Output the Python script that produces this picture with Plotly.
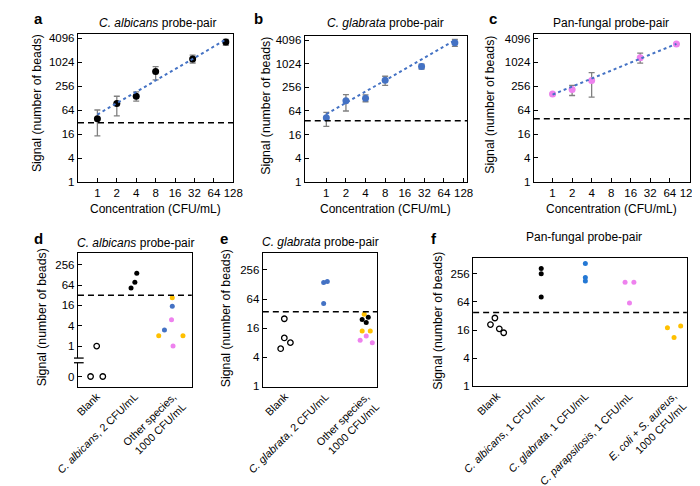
import numpy as np
import plotly.graph_objects as go

W, H = 700, 486
FONT = "Liberation Sans, Arial, sans-serif"

# ---- panels a-c : signal vs concentration ----
conc_a = [1, 2, 4, 8, 30, 98]
sig_a = [39, 95, 144, 600, 1237, 3330]
hi_a = [65, 144, 185, 800, 1553, 3880]
lo_a = [14.6, 46, 108, 373, 985, 2750]
fit_a_x = [1, 100]
fit_a_y = [50, 3900]
thr_a = 31

conc_b = [1, 2, 4, 8, 29, 94]
sig_b = [43, 116, 135, 391, 878, 3510]
hi_b = [59, 168, 164, 492, 1003, 4260]
lo_b = [26, 64, 110, 288, 753, 2840]
fit_b_x = [1, 94]
fit_b_y = [53, 4096]
thr_b = 36

conc_c = [1, 2, 4, 22.4, 81]
sig_c = [164, 211, 359, 1335, 2970]
hi_c = [170, 270, 568, 1745, 3050]
lo_c = [158, 150, 136, 985, 2900]
fit_c_x = [1, 81]
fit_c_y = [158, 3000]
thr_c = 39

conc_ticks = [1, 2, 4, 8, 16, 32, 64, 128]
sig_ticks = [1, 4, 16, 64, 256, 1024, 4096]

# ---- panels d-f : specificity (category index + jitter) ----
cats_d = ["Blank", "<i>C. albicans</i>, 2 CFU/mL", "Other species,<br>1000 CFU/mL"]
d_blank_x = [0, -0.16, 0.16]
d_blank_y = [1, 0, 0]
d_alb_x = [0.9, 1.0, 1.05]
d_alb_y = [52, 78, 143]
d_orange_x = [1.98, 1.625, 2.26]
d_orange_y = [27, 2, 2]
d_blue_x = [1.98, 1.775]
d_blue_y = [15, 3]
d_pink_x = [1.96, 2.0]
d_pink_y = [6, 1]
thr_d = 32
zero_pos = 0.125  # where "0" sits below the axis break
break_vals = [0.44, 0.32]

cats_e = ["Blank", "<i>C. glabrata</i>, 2 CFU/mL", "Other species,<br>1000 CFU/mL"]
e_blank_x = [-0.02, -0.02, 0.13, -0.11]
e_blank_y = [25, 10, 8, 6]
e_glab_x = [0.95, 1.04, 0.95]
e_glab_y = [141, 148, 52]
e_orange_x = [1.95, 1.9, 2.1]
e_orange_y = [31, 14, 14]
e_black_x = [2.05, 1.9, 2.0]
e_black_y = [27, 24, 21]
e_pink_x = [2.0, 1.85, 2.15]
e_pink_y = [11, 9, 8]
thr_e = 35

cats_f = ["Blank", "<i>C. albicans</i>, 1 CFU/mL", "<i>C. glabrata</i>, 1 CFU/mL",
          "<i>C. parapsilosis</i>, 1 CFU/mL", "<i>E. coli</i> + <i>S. aureus</i>,<br>1000 CFU/mL"]
f_blank_x = [-0.15, -0.05, 0.05, 0.15]
f_blank_y = [21, 29, 17, 14]
f_alb_x = [1.0, 1.0, 1.0]
f_alb_y = [337, 260, 82]
f_glab_x = [2.0, 2.0, 2.0]
f_glab_y = [430, 214, 180]
f_para_x = [2.9, 3.1, 3.0]
f_para_y = [171, 171, 61]
f_ecoli_x = [3.86, 4.16, 4.01]
f_ecoli_y = [18, 19.5, 11]
thr_f = 38

BLACK = "#000000"
BLUE = "#4472C4"
BLUE2 = "#2478d4"
PINK = "#EE82EE"
ORANGE = "#FFC000"
GREY = "#808080"


def px(x):
    return x / W


def py(y):
    return 1 - y / H


fig = go.Figure()

axis_style = dict(showline=True, linecolor="black", linewidth=1.3, mirror=True,
                  showgrid=False, zeroline=False, tickcolor="black",
                  tickfont=dict(size=11.5, color="black", family=FONT))

# pixel boxes of each panel: (x0, x1), (y0 top, y1 bottom)
boxes = {
    1: ((49.3, 212.3), (24, 175)),
    2: ((287.3, 457.7), (26.7, 174.7)),
    3: ((527.7, 691.3), (24, 174.7)),
    4: ((49.3, 168.7), (246.7, 383.3)),
    5: ((243.3, 363.3), (246.7, 383.3)),
    6: ((464, 688.3), (251.7, 382.7)),
}

layout_axes = {}
for i, ((x0, x1), (y0, y1)) in boxes.items():
    s = "" if i == 1 else str(i)
    layout_axes["xaxis" + s] = dict(domain=[px(x0), px(x1)], anchor="y" + s, **axis_style)
    layout_axes["yaxis" + s] = dict(domain=[py(y1), py(y0)], anchor="x" + s,
                                    type="log", ticks="inside", ticklen=4, **axis_style)
fig.update_layout(**layout_axes)

# x ranges (log2 units converted to log10)
l2 = np.log10(2)
for s, (lo, hi) in zip(["", "2", "3"], [(-1.0, 7.0), (-1.1, 7.18), (-0.96, 7.02)]):
    fig.layout["xaxis" + s].update(type="log", range=[lo * l2, hi * l2], tickvals=conc_ticks,
                                   ticktext=[str(t) for t in conc_ticks], ticks="inside", ticklen=4)
for s, top in zip(["", "2", "3"], [12.4, 12.33, 12.41]):
    fig.layout["yaxis" + s].update(range=[0, top * l2], tickvals=sig_ticks,
                                   ticktext=[str(t) for t in sig_ticks])

# bottom row category axes
for s, cats, rng in [("4", cats_d, [-0.49, 2.49]), ("5", cats_e, [-0.55, 2.27]),
                     ("6", cats_f, [-0.543, 4.3])]:
    fig.layout["xaxis" + s].update(range=rng, tickvals=list(range(len(cats))), ticktext=cats,
                                   tickangle=-45, ticks="", ticklabelstandoff=-2,
                                   tickfont=dict(size=10.8, color="black", family=FONT))
fig.layout.yaxis4.update(range=[-4.03 * l2, 9.19 * l2], tickvals=[zero_pos, 1, 4, 16, 64, 256],
                         ticktext=["0", "1", "4", "16", "64", "256"])
fig.layout.yaxis5.update(range=[-0.05 * l2, 9.19 * l2], tickvals=[1, 4, 16, 64, 256],
                         ticktext=["1", "4", "16", "64", "256"])
fig.layout.yaxis6.update(range=[-0.02 * l2, 9.17 * l2], tickvals=[1, 4, 16, 64, 256],
                         ticktext=["1", "4", "16", "64", "256"])

# ---- top row traces ----
for s, conc, sig, hi, lo, fx, fy, col in [
    ("", conc_a, sig_a, hi_a, lo_a, fit_a_x, fit_a_y, BLACK),
    ("2", conc_b, sig_b, hi_b, lo_b, fit_b_x, fit_b_y, BLUE),
    ("3", conc_c, sig_c, hi_c, lo_c, fit_c_x, fit_c_y, PINK),
]:
    sig_arr = np.array(sig, dtype=float)
    fig.add_trace(go.Scatter(
        x=conc, y=sig, mode="markers", xaxis="x" + s, yaxis="y" + s,
        marker=dict(color=col, size=7),
        error_y=dict(type="data", symmetric=False, array=np.array(hi) - sig_arr,
                     arrayminus=sig_arr - np.array(lo), color=GREY, thickness=1.3, width=3)))
    fig.add_trace(go.Scatter(x=fx, y=fy, mode="lines", xaxis="x" + s, yaxis="y" + s,
                             line=dict(color=BLUE, width=2, dash="dot")))


def dots(xs, ys, s, col, open_=False):
    ys = [zero_pos if v == 0 else v for v in ys]
    if open_:
        m = dict(symbol="circle-open", size=5.5, color=col, line=dict(width=1.3, color=col))
    else:
        m = dict(symbol="circle", size=5, color=col)
    fig.add_trace(go.Scatter(x=xs, y=ys, mode="markers", xaxis="x" + s, yaxis="y" + s, marker=m))


dots(d_blank_x, d_blank_y, "4", BLACK, True)
dots(d_alb_x, d_alb_y, "4", BLACK)
dots(d_orange_x, d_orange_y, "4", ORANGE)
dots(d_blue_x, d_blue_y, "4", BLUE)
dots(d_pink_x, d_pink_y, "4", PINK)

dots(e_blank_x, e_blank_y, "5", BLACK, True)
dots(e_glab_x, e_glab_y, "5", BLUE)
dots(e_orange_x, e_orange_y, "5", ORANGE)
dots(e_black_x, e_black_y, "5", BLACK)
dots(e_pink_x, e_pink_y, "5", PINK)

dots(f_blank_x, f_blank_y, "6", BLACK, True)
dots(f_alb_x, f_alb_y, "6", BLACK)
dots(f_glab_x, f_glab_y, "6", BLUE2)
dots(f_para_x, f_para_y, "6", PINK)
dots(f_ecoli_x, f_ecoli_y, "6", ORANGE)

# threshold dashed lines (shape y values are data values on these log axes)
for s, thr in [("", thr_a), ("2", thr_b), ("3", thr_c), ("4", thr_d), ("5", thr_e), ("6", thr_f)]:
    fig.add_shape(type="line", xref=("x" + s) + " domain", x0=0, x1=1,
                  yref="y" + s, y0=thr, y1=thr,
                  line=dict(color="black", width=1.6, dash="6px,4px"))

# axis break on panel d
b_hi, b_lo = break_vals
fig.add_shape(type="rect", xref="x4 domain", x0=-0.02, x1=0.02, yref="y4", y0=b_lo, y1=b_hi,
              fillcolor="white", line=dict(width=0), layer="above")
for yb in (b_hi, b_lo):
    fig.add_shape(type="line", xref="x4 domain", x0=-0.035, x1=0.05, yref="y4", y0=yb, y1=yb,
                  line=dict(color="black", width=1.3), layer="above")

# ---- text ----
ann = []


def text(x, y, t, size=12, bold=False, angle=0, xanchor="center"):
    if bold:
        t = "<b>" + t + "</b>"
    ann.append(dict(x=px(x), y=py(y), xref="paper", yref="paper", text=t, showarrow=False,
                    textangle=angle, xanchor=xanchor, yanchor="middle",
                    font=dict(size=size, family=FONT, color="black")))


for lbl, x, y in [("a", 1, 9), ("b", 232, 9), ("c", 479, 9),
                  ("d", 1, 232), ("e", 196, 232), ("f", 418, 232)]:
    text(x, y, lbl, size=15, bold=True, xanchor="left")

text(133, 13, "<i>C. albicans</i> probe-pair")
text(372, 13, "<i>C. glabrata</i> probe-pair")
text(609, 13, "Pan-fungal probe-pair")
text(110, 237, "<i>C. albicans</i> probe-pair")
text(304, 236, "<i>C. glabrata</i> probe-pair")
text(580, 231, "Pan-fungal probe-pair")

for x in (131, 372, 609):
    text(x, 202, "Concentration (CFU/mL)")

for x, y in [(7, 95), (247, 97), (482, 96), (11, 312), (205, 313), (427, 316)]:
    text(x, y, "Signal (number of beads)", angle=-90, size=12.3)

fig.update_layout(width=W, height=H, margin=dict(l=0, r=0, t=0, b=0),
                  plot_bgcolor="white", paper_bgcolor="white", showlegend=False,
                  font=dict(family=FONT, color="black"), annotations=ann)

fig.write_html("out.html")
